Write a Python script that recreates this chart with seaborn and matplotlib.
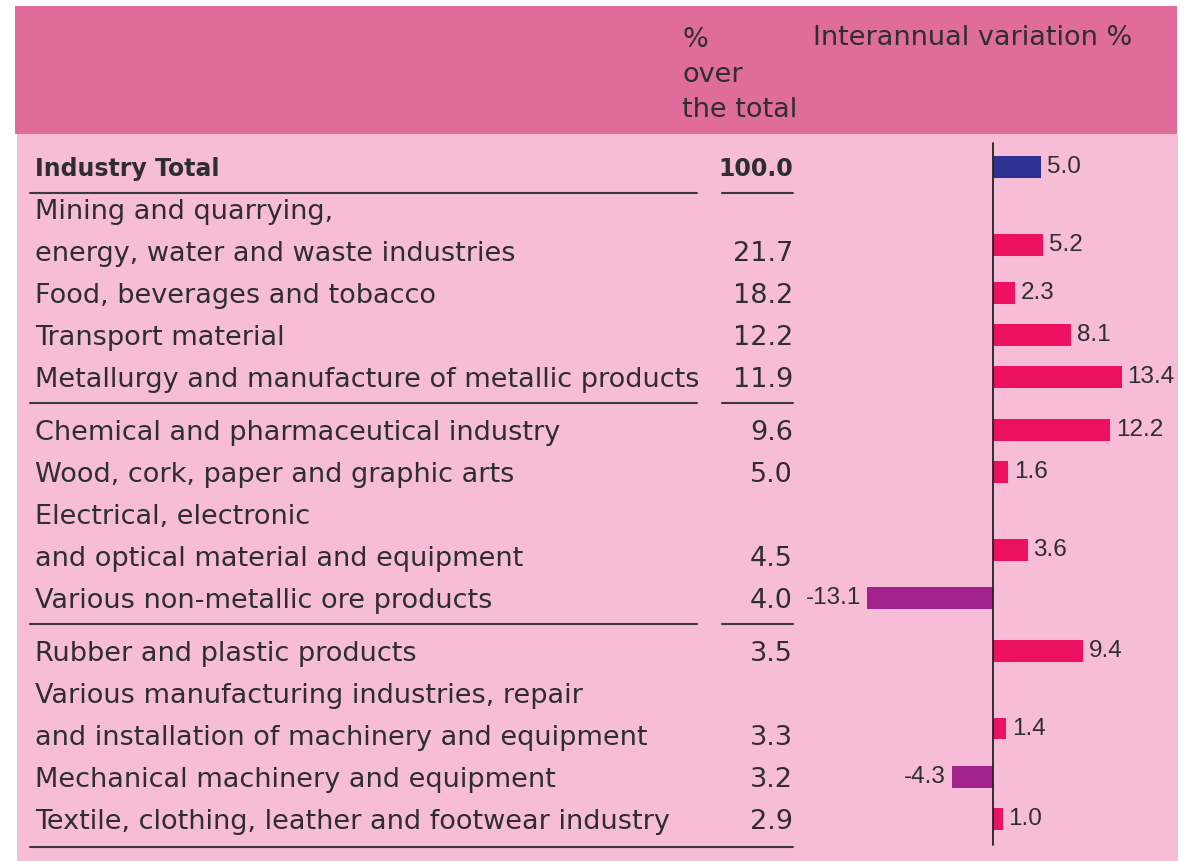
import numpy as np
import pandas as pd
import matplotlib.pyplot as plt
import matplotlib.transforms as mtransforms
from matplotlib.patches import Rectangle
import seaborn as sns

# Data
sectors = [
    "Industry Total",
    "Mining and quarrying,\nenergy, water and waste industries",
    "Food, beverages and tobacco",
    "Transport material",
    "Metallurgy and manufacture of metallic products",
    "Chemical and pharmaceutical industry",
    "Wood, cork, paper and graphic arts",
    "Electrical, electronic\nand optical material and equipment",
    "Various non-metallic ore products",
    "Rubber and plastic products",
    "Various manufacturing industries, repair\nand installation of machinery and equipment",
    "Mechanical machinery and equipment",
    "Textile, clothing, leather and footwear industry",
]
share = [100.0, 21.7, 18.2, 12.2, 11.9, 9.6, 5.0, 4.5, 4.0, 3.5, 3.3, 3.2, 2.9]
variation = [5.0, 5.2, 2.3, 8.1, 13.4, 12.2, 1.6, 3.6, -13.1, 9.4, 1.4, -4.3, 1.0]
block = [0, 0, 0, 0, 0, 1, 1, 1, 1, 2, 2, 2, 2]
rule_after = [0, 4, 8]  # short rules under these rows, plus one at the end

header_share = ["%", "over", "the total"]
header_var = "Interannual variation %"

# Colours
HEAD_BG = "#e06c9b"
BODY_BG = "#f7bdd7"
TEXT = "#2e2e2e"
palette = {"total": "#2e3192", "up": "#ed1164", "down": "#a1238b"}

# Layout in pixels
W, H = 1185, 861
ROW0_PX = 167      # centre of first row
ROW_PX = 42        # line pitch
ZERO_PX = 993      # x of the zero line
UNIT_PX = 9.6      # pixels per percentage point
GAP = 0.26         # extra space between blocks, in rows

# row positions in "line" units
first_line, last_line, bar_pos = [], [], []
line = 0
for lab, b in zip(sectors, block):
    n = lab.count("\n") + 1
    first_line.append(line + GAP * b)
    last_line.append(line + n - 1 + GAP * b)
    # bars of two-line rows sit a little above the last line
    bar_pos.append(last_line[-1] - (0.15 if n > 1 else 0))
    line += n

kind = ["total"] + ["up" if v > 0 else "down" for v in variation[1:]]
df = pd.DataFrame({"pos": bar_pos, "var": variation, "kind": kind})

sns.set_style("white")
plt.rcParams["font.family"] = ["DejaVu Sans"]

fig = plt.figure(figsize=(W / 100, H / 100), dpi=100)
ax = fig.add_axes([0, 0, 1, 1])

# backgrounds
ax.add_patch(Rectangle((17 / W, 0), (1178 - 17) / W, 1 - 134 / H,
                       transform=ax.transAxes, facecolor=BODY_BG, lw=0, zorder=0))
ax.add_patch(Rectangle((15 / W, 1 - 134 / H), (1177 - 15) / W, (134 - 6) / H,
                       transform=ax.transAxes, facecolor=HEAD_BG, lw=0, zorder=0))

sns.barplot(data=df, x="var", y="pos", hue="kind", palette=palette,
            orient="h", native_scale=True, width=0.52, dodge=False,
            saturation=1, legend=False, linewidth=0, ax=ax)

ax.set_xlim(-ZERO_PX / UNIT_PX, (W - ZERO_PX) / UNIT_PX)
ax.set_ylim((H - ROW0_PX) / ROW_PX, -ROW0_PX / ROW_PX)
ax.axis("off")

# zero line
y_end = last_line[-1] + 0.63
ax.plot([0, 0], [(143 - ROW0_PX) / ROW_PX, y_end], color="#222222", lw=1.3, zorder=3)

blend = mtransforms.blended_transform_factory(ax.transAxes, ax.transData)

# row labels and shares
for i, lab in enumerate(sectors):
    bold = i == 0
    for j, part in enumerate(lab.split("\n")):
        ax.text(35 / W, first_line[i] + j, part, transform=blend,
                ha="left", va="center_baseline", color=TEXT,
                fontsize=17 if bold else 19.5,
                fontweight="bold" if bold else "normal")
    ax.text(793 / W, last_line[i], f"{share[i]:.1f}", transform=blend,
            ha="right", va="center_baseline", color=TEXT,
            fontsize=17 if bold else 19.5,
            fontweight="bold" if bold else "normal")

# bar value labels
for p, v in zip(bar_pos, variation):
    off = 0.6 if v > 0 else -0.6
    ax.text(v + off, p, f"{v:.1f}", ha="left" if v > 0 else "right",
            va="center", color=TEXT, fontsize=17.5, family="Liberation Sans")

# separator rules
for i in rule_after:
    y = last_line[i] + 0.63
    ax.plot([30 / W, 697 / W], [y, y], transform=blend, color="#3a3a3a", lw=1.5)
    ax.plot([722 / W, 793 / W], [y, y], transform=blend, color="#3a3a3a", lw=1.5)
ax.plot([30 / W, 793 / W], [y_end + 0.05, y_end + 0.05], transform=blend,
        color="#3a3a3a", lw=1.5)

# header text
for k, t in enumerate(header_share):
    ax.text(682 / W, 1 - (37 + 35 * k) / H, t, transform=ax.transAxes,
            ha="left", va="center_baseline", color=TEXT, fontsize=19.5)
ax.text(813 / W, 1 - 35 / H, header_var, transform=ax.transAxes,
        ha="left", va="center_baseline", color=TEXT, fontsize=19.5)

fig.savefig("out.png", dpi=100, facecolor="white")
